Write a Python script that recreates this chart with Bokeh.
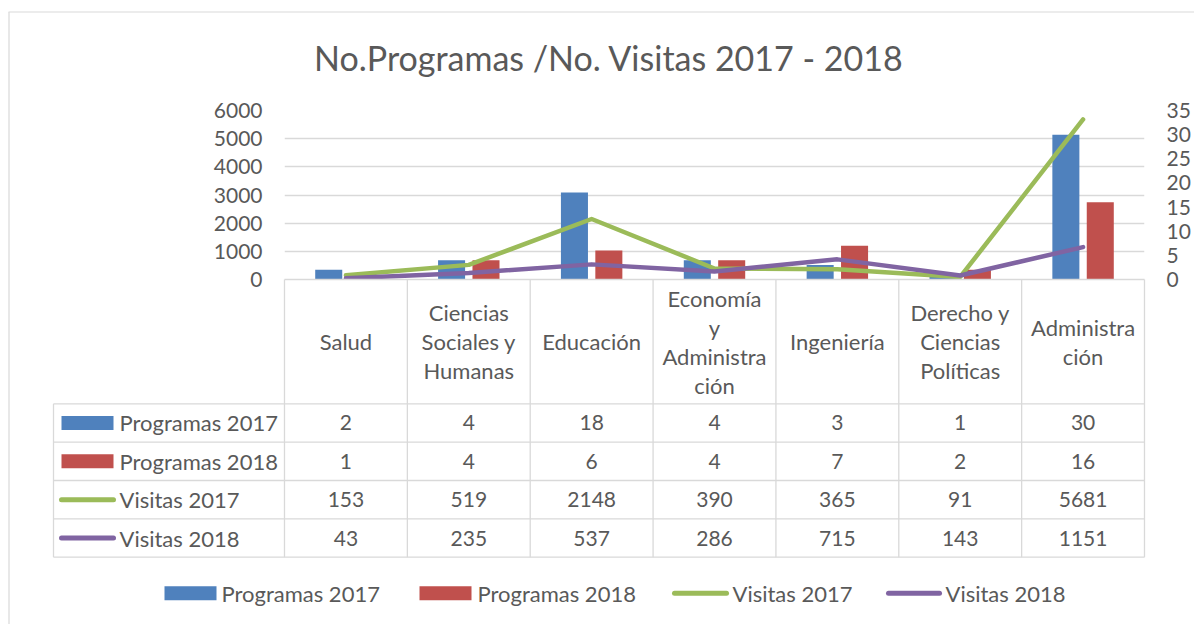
from bokeh.plotting import figure
from bokeh.models import Range1d, LinearAxis, FixedTicker
from bokeh.core.properties import value
from bokeh.embed import file_html
from bokeh.resources import INLINE

# ---------------- data ----------------
categories = ["Salud", "Ciencias\nSociales y\nHumanas", "Educación",
              "Economía\ny\nAdministra\nción", "Ingeniería",
              "Derecho y\nCiencias\nPolíticas", "Administra\nción"]
programas_2017 = [2, 4, 18, 4, 3, 1, 30]
programas_2018 = [1, 4, 6, 4, 7, 2, 16]
visitas_2017 = [153, 519, 2148, 390, 365, 91, 5681]
visitas_2018 = [43, 235, 537, 286, 715, 143, 1151]
series_names = ["Programas 2017", "Programas 2018", "Visitas 2017", "Visitas 2018"]
left_ticks = [0, 1000, 2000, 3000, 4000, 5000, 6000]
right_ticks = [0, 5, 10, 15, 20, 25, 30, 35]
title_text = "No.Programas /No. Visitas 2017 - 2018"

# ---------------- style / layout ----------------
FONT = "Lato"
TXT = "#595959"
GRID = "#D9D9D9"
BLUE, RED, GREEN, PURPLE = "#4F81BD", "#C0504D", "#9BBB59", "#8064A2"
series_colors = [BLUE, RED, GREEN, PURPLE]
series_kind = ["bar", "bar", "line", "line"]

W, H = 1194, 624
FRAME_L, FRAME_R, FRAME_T, FRAME_H = 284, 50, 110, 169
N = len(categories)
PX = (W - FRAME_L - FRAME_R) / N
HEADER_H = 124.3
ROW_H = 38.35
LINE_H = 29
FS_NUM = "21px"
FS_TXT = "22px"


def px_x(page_x):
    return (page_x - FRAME_L) / PX


def px_y(page_y):
    return page_y - (FRAME_T + FRAME_H)


xc = [i + 0.5 for i in range(N)]

p = figure(width=W, height=H, x_range=Range1d(0, N), y_range=Range1d(0, left_ticks[-1]),
           output_backend="svg", toolbar_location=None, x_axis_location=None,
           min_border_left=FRAME_L, min_border_right=FRAME_R, min_border_top=FRAME_T,
           min_border_bottom=H - FRAME_T - FRAME_H, outline_line_color=None)
p.extra_y_ranges = {"right": Range1d(0, right_ticks[-1]), "tbl": Range1d(0, -FRAME_H)}

p.xgrid.visible = False
p.ygrid.ticker = FixedTicker(ticks=left_ticks[1:])
p.ygrid.grid_line_color = GRID
p.ygrid.grid_line_width = 1.3


def style_axis(ax, standoff):
    ax.axis_line_color = None
    ax.major_tick_line_color = None
    ax.minor_tick_line_color = None
    ax.major_tick_in = 0
    ax.major_tick_out = 0
    ax.major_label_text_font = FONT
    ax.major_label_text_font_size = FS_NUM
    ax.major_label_text_color = TXT
    ax.major_label_standoff = standoff


ly = p.yaxis[0]
ly.ticker = FixedTicker(ticks=left_ticks)
style_axis(ly, 22)
ry = LinearAxis(y_range_name="right", ticker=FixedTicker(ticks=right_ticks))
style_axis(ry, 22)
p.add_layout(ry, "right")

# bars (right axis) and lines (left axis)
BW, OFF = 0.22, 0.14
p.vbar(x=[c - OFF for c in xc], top=programas_2017, width=BW, y_range_name="right",
       fill_color=BLUE, line_color=None)
p.vbar(x=[c + OFF for c in xc], top=programas_2018, width=BW, y_range_name="right",
       fill_color=RED, line_color=None)
p.line(xc, visitas_2017, line_color=GREEN, line_width=4.5, line_cap="round", line_join="round")
p.line(xc, visitas_2018, line_color=PURPLE, line_width=4.5, line_cap="round", line_join="round")

# ---------------- overlay elements drawn outside the plot frame ----------------
OV = dict(level="overlay", y_range_name="tbl")

# chart title
p.text(x=[px_x(608.5)], y=[px_y(57)], text=[title_text], text_align="center",
       text_baseline="middle", text_font=value(FONT), text_font_size="34px",
       text_color=TXT, **OV)

rows = [programas_2017, programas_2018, visitas_2017, visitas_2018]
table_bottom = HEADER_H + len(rows) * ROW_H
hdr_left = px_x(53)

sx0, sy0, sx1, sy1 = [], [], [], []
# axis line
sx0.append(0); sy0.append(0); sx1.append(N); sy1.append(0)
# column separators
for i in range(N + 1):
    sx0.append(i); sy0.append(0); sx1.append(i); sy1.append(table_bottom)
# row lines
for k in range(len(rows) + 1):
    yy = HEADER_H + k * ROW_H
    sx0.append(hdr_left); sy0.append(yy); sx1.append(N); sy1.append(yy)
# left edge of row headers
sx0.append(hdr_left); sy0.append(HEADER_H); sx1.append(hdr_left); sy1.append(table_bottom)
p.segment(x0=sx0, y0=sy0, x1=sx1, y1=sy1, line_color=GRID, line_width=1.3, **OV)

# chart border (left and top)
p.segment(x0=[px_x(8.5), px_x(8)], y0=[px_y(11.5), px_y(11.5)],
          x1=[px_x(8.5), px_x(1194)], y1=[px_y(624), px_y(11.5)],
          line_color=GRID, line_width=1.2, **OV)

# header category labels
hx, hy, ht = [], [], []
for i, cat in enumerate(categories):
    parts = cat.split("\n")
    n = len(parts)
    for j, part in enumerate(parts):
        hx.append(xc[i])
        hy.append(HEADER_H / 2 + (j - (n - 1) / 2) * LINE_H)
        ht.append(part)
p.text(x=hx, y=hy, text=ht, text_align="center", text_baseline="middle",
       text_font=value(FONT), text_font_size=FS_TXT, text_color=TXT, **OV)

# values
vx, vy, vt = [], [], []
for k, row in enumerate(rows):
    for i, v in enumerate(row):
        vx.append(xc[i])
        vy.append(HEADER_H + (k + 0.5) * ROW_H)
        vt.append(str(v))
p.text(x=vx, y=vy, text=vt, text_align="center", text_baseline="middle",
       text_font=value(FONT), text_font_size=FS_NUM, text_color=TXT, **OV)


def swatch(kind, color, x0, x1, yc):
    if kind == "bar":
        p.quad(left=[px_x(x0)], right=[px_x(x1)], top=[yc - 7], bottom=[yc + 7],
               fill_color=color, line_color=None, **OV)
    else:
        p.segment(x0=[px_x(x0 + 2)], y0=[yc], x1=[px_x(x1 - 2)], y1=[yc],
                  line_color=color, line_width=5, line_cap="round", **OV)


# row headers
for k, name in enumerate(series_names):
    yc = HEADER_H + (k + 0.5) * ROW_H
    if series_kind[k] == "bar":
        swatch("bar", series_colors[k], 61, 113, yc)
    else:
        swatch("line", series_colors[k], 59, 115, yc)
p.text(x=[px_x(119)] * len(series_names),
       y=[HEADER_H + (k + 0.5) * ROW_H for k in range(len(series_names))],
       text=series_names, text_align="left", text_baseline="middle",
       text_font=value(FONT), text_font_size=FS_TXT, text_color=TXT, **OV)

# legend
leg_y = px_y(592.7)
leg_sw = [(164, 216), (419, 471), (672, 728), (886, 941)]
leg_tx = [221, 477, 732, 945]
for k in range(len(series_names)):
    swatch(series_kind[k], series_colors[k], leg_sw[k][0], leg_sw[k][1], leg_y)
p.text(x=[px_x(t) for t in leg_tx], y=[leg_y] * len(series_names), text=series_names,
       text_align="left", text_baseline="middle",
       text_font=value(FONT), text_font_size=FS_TXT, text_color=TXT, **OV)

open("out.html", "w").write(file_html(p, INLINE))
